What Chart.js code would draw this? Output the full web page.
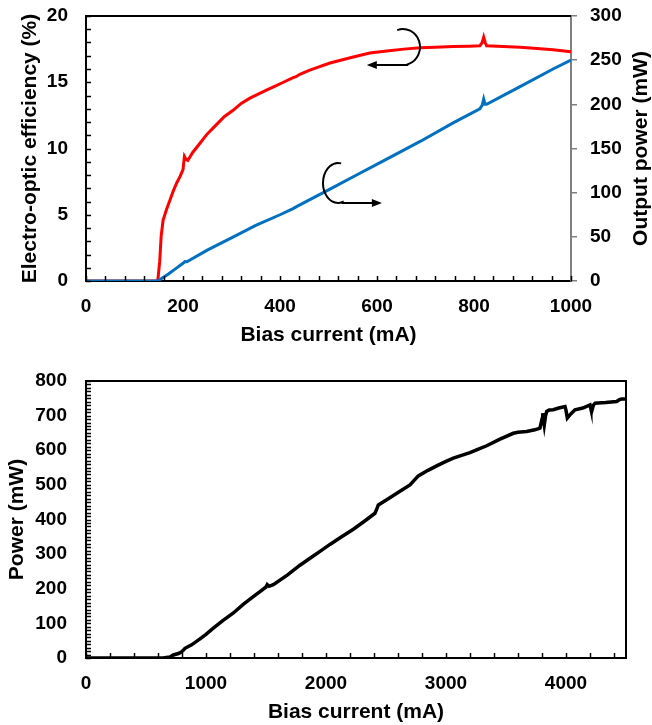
<!DOCTYPE html>
<html><head><meta charset="utf-8">
<script src="https://cdn.jsdelivr.net/npm/chart.js@4.4.0/dist/chart.umd.min.js"></script>
<style>
html,body{margin:0;padding:0;background:#fff;width:652px;height:725px;overflow:hidden}
canvas{position:absolute;left:0}
</style></head>
<body>
<canvas id="topChart" width="652" height="349" style="top:0"></canvas>
<canvas id="bottomChart" width="652" height="365" style="top:360px"></canvas>
<script>
// ---- Top chart data ----
const effCurrent = [0,140,148,152,155,159,166,173,180,187,194,200,203,206,210,220,235,250,269,285,304,320,338,355,372,390,407,427,432,441,460,476,503,551,585,620,655,689,720,757,790,812,817,820,823,826,860,895,930,963,1000];
const effValue   = [0,0,0,1.5,3.4,4.6,5.4,6.1,6.8,7.4,7.9,8.4,9.4,9.2,9.1,9.7,10.4,11.1,11.8,12.4,12.9,13.4,13.8,14.1,14.4,14.7,15.0,15.35,15.4,15.6,15.9,16.1,16.45,16.9,17.2,17.35,17.5,17.6,17.65,17.7,17.72,17.75,18.0,18.4,18.0,17.75,17.7,17.65,17.55,17.45,17.3];
const powCurrent = [0,148,155,170,185,200,204,208,250,304,350,400,427,435,503,551,620,689,757,812,817,820,823,826,895,963,1000];
const powValue   = [0,0,2.5,8,14,20,22,21.8,35,50,63,75,82,84.5,104,118,138,158,179,195,199,206,200,200,220,240,250];
const topXTicks = [0,200,400,600,800,1000];
const effTicks  = [0,5,10,15,20];
const powTicks  = [0,50,100,150,200,250,300];

// ---- Bottom chart data ----
const biasCurrent = [0,640,700,728,770,797,810,825,880,950,1000,1061,1140,1228,1310,1394,1450,1500,1510,1525,1561,1680,1783,1900,1950,2033,2130,2228,2320,2408,2425,2436,2506,2600,2700,2769,2850,2922,3000,3061,3130,3200,3270,3339,3450,3561,3600,3672,3740,3783,3800,3806,3812,3819,3830,3839,3860,3894,3940,3992,4000,4011,4040,4075,4140,4200,4207,4214,4228,4242,4330,4422,4445,4464,4500];
const outputPower = [0,0,3,8.7,13,18,22,28,38,55,68,86,108,130,155,177,192,205,212,207,212,240,268,296,308,328,350,372,395,418,432,442,457,478,500,526,542,555,568,577,585,593,603,613,632,649,652,654,659,664,690,707,690,673,700,712,716,717,722,726,715,693,705,717,722,731,720,712,730,736,738,741,746,748,748];
const bottomXTicks = [0,1000,2000,3000,4000];
const bottomYTicks = [0,100,200,300,400,500,600,700,800];

const FAMILY = "'Liberation Sans', Arial, sans-serif";
const FONT = {family:FAMILY, size:19, weight:'bold'};
const TFONT = {family:FAMILY, size:21, weight:'bold'};
const setTicks = arr => s => { s.ticks = arr.map(v => ({value:v})); };
const fit = (dim, val) => s => { s[dim] = val; s.paddingTop = 0; s.paddingBottom = 0; s.paddingLeft = 0; s.paddingRight = 0; };
const plain = v => String(v);
const pts = (xs, ys) => xs.map((x,i) => ({x:x, y:ys[i]}));

const innerTicks = {
  id:'innerTicks',
  afterDraw(chart, args, opts) {
    const ctx = chart.ctx, a = chart.chartArea;
    ctx.save(); ctx.strokeStyle = '#000'; ctx.lineWidth = 1.5;
    (opts.specs || []).forEach(sp => {
      const sc = chart.scales[sp.id];
      for (let v = sc.min; v <= sc.max + 1e-9; v += sp.step) {
        const p = Math.round(sc.getPixelForValue(v)) + 0.5;
        ctx.beginPath();
        if (sc.isHorizontal()) { ctx.moveTo(p, a.bottom); ctx.lineTo(p, a.bottom - sp.len); }
        else { ctx.moveTo(a.left, p); ctx.lineTo(a.left + sp.len, p); }
        ctx.stroke();
      }
    });
    ctx.restore();
  }
};
const frame = {
  id:'frame',
  afterDraw(chart, args, opts) {
    const ctx = chart.ctx, a = chart.chartArea;
    ctx.save(); ctx.strokeStyle = '#000'; ctx.lineWidth = 2;
    ctx.beginPath();
    ctx.moveTo(a.left - 1, a.top); ctx.lineTo(a.right, a.top);
    if (opts.right) { ctx.lineTo(a.right, a.bottom); }
    ctx.stroke();
    ctx.restore();
  }
};
const rightTitle = {
  id:'rightTitle',
  afterDraw(chart, args, opts) {
    if (!opts.text) return;
    const ctx = chart.ctx, a = chart.chartArea;
    ctx.save();
    ctx.translate(chart.width - opts.offset, (a.top + a.bottom) / 2);
    ctx.rotate(-Math.PI / 2);
    ctx.font = 'bold ' + TFONT.size + 'px ' + FAMILY;
    ctx.fillStyle = '#000'; ctx.textAlign = 'center'; ctx.textBaseline = 'middle';
    ctx.fillText(opts.text, 0, 0);
    ctx.restore();
  }
};
const arrows = {
  id:'arrows',
  afterDatasetsDraw(chart, args, opts) {
    const ctx = chart.ctx, xs = chart.scales.x, ys = chart.scales.y;
    ctx.save(); ctx.strokeStyle = '#000'; ctx.fillStyle = '#000'; ctx.lineWidth = 2;
    (opts.items || []).forEach(it => {
      const cx = xs.getPixelForValue(it.cx), cy = ys.getPixelForValue(it.cy);
      const a0 = it.a0 * Math.PI/180, a1 = it.a1 * Math.PI/180;
      ctx.beginPath();
      ctx.ellipse(cx, cy, it.rx, it.ry, 0, a0, a1, it.ccw);
      const ex = cx + it.rx*Math.cos(a1), ey = ys.getPixelForValue(it.ay);
      ctx.lineTo(ex, ey);
      const tx = xs.getPixelForValue(it.tx);
      const dir = tx > ex ? 1 : -1;
      ctx.lineTo(tx - dir*8, ey);
      ctx.stroke();
      ctx.beginPath();
      ctx.moveTo(tx, ey); ctx.lineTo(tx - dir*10, ey - 4); ctx.lineTo(tx - dir*10, ey + 4); ctx.closePath();
      ctx.fill();
    });
    ctx.restore();
  }
};

new Chart(document.getElementById('topChart'), {
  type:'line',
  data:{datasets:[
    {data:pts(powCurrent, powValue), yAxisID:'y1', borderColor:'#0070C0', borderWidth:3, pointRadius:0, tension:0},
    {data:pts(effCurrent, effValue), yAxisID:'y', borderColor:'#FF0000', borderWidth:3, pointRadius:0, tension:0}
  ]},
  options:{
    responsive:false, animation:false, devicePixelRatio:1,
    layout:{padding:{top:16, left:0, right:0, bottom:0}},
    plugins:{legend:{display:false}, tooltip:{enabled:false},
      innerTicks:{specs:[{id:'x', step:40, len:5},{id:'y', step:1, len:5}]},
      frame:{right:false},
      rightTitle:{text:'Output power (mW)', offset:11},
      arrows:{items:[
        {cx:653.6, cy:17.66, rx:17, ry:18, a0:-110, a1:75, ccw:false, ay:16.3, tx:579},
        {cx:519.6, cy:7.40, rx:15, ry:20, a0:-78, a1:72, ccw:true, ay:5.89, tx:610}
      ]}
    },
    scales:{
      x:{type:'linear', min:0, max:1000, afterBuildTicks:setTicks(topXTicks),
         afterFit:fit('height', 68),
         grid:{display:false, drawTicks:false}, border:{color:'#000', width:2},
         ticks:{font:FONT, color:'#000', padding:14, maxRotation:0, autoSkip:false, callback:plain},
         title:{display:true, text:'Bias current (mA)', font:TFONT, color:'#000', padding:{top:0,bottom:1}}},
      y:{type:'linear', position:'left', min:0, max:20, afterBuildTicks:setTicks(effTicks),
         afterFit:fit('width', 86),
         grid:{display:false, drawTicks:false}, border:{color:'#000', width:2},
         ticks:{font:FONT, color:'#000', padding:18, callback:plain},
         title:{display:true, text:'Electro-optic efficiency (%)', font:TFONT, color:'#000', padding:{top:18,bottom:0}}},
      y1:{type:'linear', position:'right', min:0, max:300, afterBuildTicks:setTicks(powTicks),
         afterFit:fit('width', 81),
         grid:{drawOnChartArea:false, drawTicks:true, tickLength:6, color:'#808080', lineWidth:1.5},
         border:{color:'#808080', width:2},
         ticks:{font:FONT, color:'#000', padding:13, callback:plain}}
    }
  },
  plugins:[innerTicks, frame, rightTitle, arrows]
});

new Chart(document.getElementById('bottomChart'), {
  type:'line',
  data:{datasets:[
    {data:pts(biasCurrent, outputPower), borderColor:'#000', borderWidth:3.5, pointRadius:0, tension:0}
  ]},
  options:{
    responsive:false, animation:false, devicePixelRatio:1,
    layout:{padding:{top:21, left:0, right:26, bottom:0}},
    plugins:{legend:{display:false}, tooltip:{enabled:false},
      innerTicks:{specs:[{id:'x', step:200, len:5},{id:'y', step:10, len:5}]},
      frame:{right:true}
    },
    scales:{
      x:{type:'linear', min:0, max:4500, afterBuildTicks:setTicks(bottomXTicks),
         afterFit:fit('height', 67),
         grid:{display:false, drawTicks:false}, border:{color:'#000', width:2},
         ticks:{font:FONT, color:'#000', padding:14, maxRotation:0, autoSkip:false, callback:plain},
         title:{display:true, text:'Bias current (mA)', font:TFONT, color:'#000', padding:{top:0,bottom:0}}},
      y:{type:'linear', min:0, max:800, afterBuildTicks:setTicks(bottomYTicks),
         afterFit:fit('width', 86),
         grid:{display:false, drawTicks:false}, border:{color:'#000', width:2},
         ticks:{font:FONT, color:'#000', padding:19, callback:plain},
         title:{display:true, text:'Power (mW)', font:TFONT, color:'#000', padding:{top:5,bottom:0}}}
    }
  },
  plugins:[innerTicks, frame]
});
</script>
</body></html>
